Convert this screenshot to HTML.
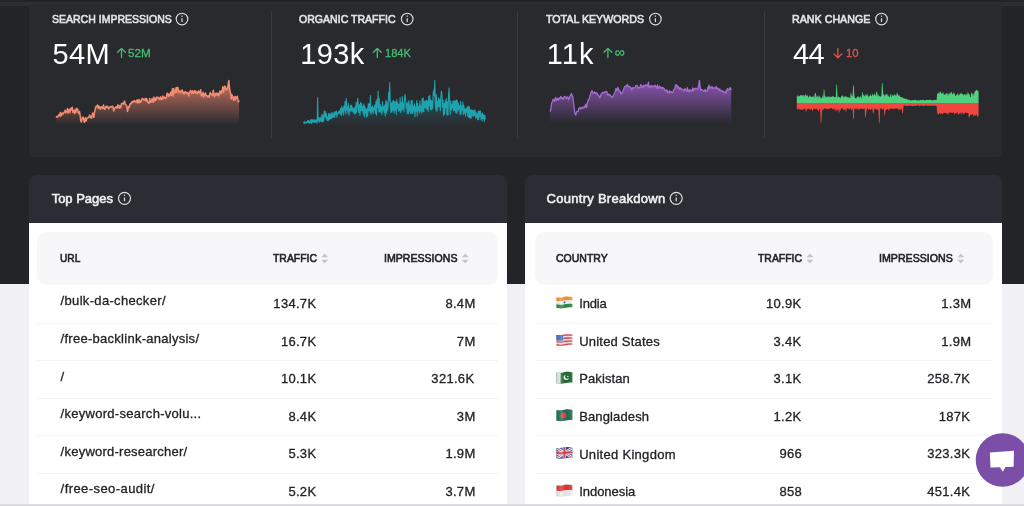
<!DOCTYPE html>
<html lang="en">
<head>
<meta charset="utf-8">
<title>SEO Dashboard</title>
<style>
*{box-sizing:border-box;margin:0;padding:0}
html,body{width:1024px;height:506px;overflow:hidden}
body{position:relative;background:#f0f0f5;font-family:"Liberation Sans","DejaVu Sans",sans-serif;color:#1f2024;-webkit-font-smoothing:antialiased}
.abs{position:absolute}
.dark{left:0;top:0;width:1024px;height:284px;background:#222428}
.topstrip{left:0;top:0;width:1024px;height:2px;background:#232428}
.topline{left:0;top:2px;width:1024px;height:3.5px;background:#2d2e33}
.stats{left:28.5px;top:5px;width:973.5px;height:151.5px;background:#292a2e;border-radius:0 0 5px 5px}
.vdiv{top:11px;width:1px;height:127px;background:#3a3b40}
.t{white-space:nowrap;transform-origin:0 0}
.lbl{color:#e4e4e8;-webkit-text-stroke:.6px #e4e4e8}
.big{color:#fff}
.up{color:#45bd72;-webkit-text-stroke:.3px #45bd72}.down{color:#e9544c;-webkit-text-stroke:.3px #e9544c}
svg{position:absolute;left:0;top:0;overflow:visible}
.chead{top:175px;width:476.5px;height:48px;background:#2b2d35;border-radius:8px 8px 0 0}
.cbody{top:222.5px;width:476.5px;height:284px;background:#fff}
.ctitle{color:#f1f1f4;-webkit-text-stroke:.55px #f1f1f4}
.thead{top:232px;height:53px;background:#f7f6f8;border-radius:10px}
.th{color:#222327;-webkit-text-stroke:.6px #222327}
.td{color:#222327;-webkit-text-stroke:.3px #222327}
.sep{height:1px;background:#f4f4f7}
</style>
</head>
<body>
<div class="abs dark"></div>
<div class="abs topstrip"></div>
<div class="abs topline"></div>
<div class="abs stats"></div>
<div class="abs vdiv" style="left:271px"></div>
<div class="abs vdiv" style="left:517px"></div>
<div class="abs vdiv" style="left:764px"></div>

<svg width="1024" height="506" viewBox="0 0 1024 506">
<defs>
<linearGradient id="g1" gradientUnits="userSpaceOnUse" x1="0" y1="85" x2="0" y2="125"><stop offset="0" stop-color="#e8826a" stop-opacity=".78"/><stop offset=".45" stop-color="#e8826a" stop-opacity=".42"/><stop offset="1" stop-color="#e8826a" stop-opacity="0"/></linearGradient>
<linearGradient id="g2" gradientUnits="userSpaceOnUse" x1="0" y1="100" x2="0" y2="127"><stop offset="0" stop-color="#1fa3ae" stop-opacity=".3"/><stop offset="1" stop-color="#1fa3ae" stop-opacity="0"/></linearGradient>
<linearGradient id="g3" gradientUnits="userSpaceOnUse" x1="0" y1="84" x2="0" y2="123"><stop offset="0" stop-color="#8a55b0" stop-opacity=".95"/><stop offset="1" stop-color="#8a55b0" stop-opacity="0"/></linearGradient>
</defs>
<path d="M56.1,117.6 L56.7,116.5 L57.3,116.9 L57.9,117.1 L58.5,115.0 L59.1,115.8 L59.7,115.4 L60.3,112.4 L60.9,116.2 L61.5,115.2 L62.1,113.0 L62.7,113.3 L63.3,114.0 L63.9,112.5 L64.5,112.2 L65.1,110.1 L65.7,112.8 L66.3,111.8 L66.9,111.7 L67.5,108.6 L68.1,113.0 L68.7,110.5 L69.3,109.3 L69.9,112.6 L70.5,109.7 L71.1,107.9 L71.7,109.7 L72.3,107.2 L72.9,112.5 L73.5,110.6 L74.1,110.4 L74.7,113.5 L75.3,109.4 L75.9,112.4 L76.5,108.3 L77.1,110.2 L77.7,109.1 L78.3,112.9 L78.9,113.5 L79.5,111.5 L80.1,115.3 L80.7,120.2 L81.3,122.0 L81.9,119.5 L82.5,117.6 L83.1,117.0 L83.7,119.8 L84.3,122.3 L84.9,119.1 L85.5,117.7 L86.1,121.2 L86.7,118.5 L87.3,118.1 L87.9,118.1 L88.5,117.3 L89.1,116.8 L89.7,114.9 L90.3,117.6 L90.9,116.5 L91.5,118.2 L92.1,115.6 L92.7,113.0 L93.3,115.5 L93.9,117.4 L94.5,112.3 L95.1,109.6 L95.7,107.2 L96.3,106.2 L96.9,106.7 L97.5,104.9 L98.1,108.5 L98.7,106.0 L99.3,106.7 L99.9,108.8 L100.5,109.1 L101.1,106.7 L101.7,107.6 L102.3,108.4 L102.9,107.2 L103.5,104.9 L104.1,108.8 L104.7,109.3 L105.3,108.5 L105.9,106.3 L106.5,107.1 L107.1,106.3 L107.7,106.5 L108.3,108.6 L108.9,108.7 L109.5,107.2 L110.1,106.9 L110.7,107.3 L111.3,106.6 L111.9,106.7 L112.5,106.1 L113.1,107.3 L113.7,111.0 L114.3,109.2 L114.9,107.7 L115.5,107.4 L116.1,106.6 L116.7,108.1 L117.3,107.9 L117.9,104.8 L118.5,107.4 L119.1,105.6 L119.7,108.3 L120.3,105.9 L120.9,107.6 L121.5,103.7 L122.1,103.3 L122.7,103.5 L123.3,104.0 L123.9,102.9 L124.5,101.0 L125.1,104.0 L125.7,104.6 L126.3,105.1 L126.9,106.3 L127.5,111.4 L128.1,109.1 L128.7,106.6 L129.3,107.1 L129.9,104.5 L130.5,103.2 L131.1,103.7 L131.7,102.5 L132.3,101.5 L132.9,102.4 L133.5,101.7 L134.1,100.5 L134.7,101.2 L135.3,101.2 L135.9,102.5 L136.5,100.8 L137.1,99.9 L137.7,103.0 L138.3,100.8 L138.9,99.5 L139.5,102.7 L140.1,100.7 L140.7,102.1 L141.3,100.2 L141.9,99.0 L142.5,98.4 L143.1,99.3 L143.7,99.8 L144.3,99.2 L144.9,100.2 L145.5,98.5 L146.1,101.1 L146.7,98.6 L147.3,101.2 L147.9,102.4 L148.5,102.8 L149.1,103.5 L149.7,98.4 L150.3,101.7 L150.9,102.2 L151.5,101.6 L152.1,98.6 L152.7,100.4 L153.3,102.3 L153.9,97.1 L154.5,99.9 L155.1,100.7 L155.7,97.9 L156.3,99.7 L156.9,97.1 L157.5,97.4 L158.1,97.3 L158.7,98.7 L159.3,98.2 L159.9,99.7 L160.5,96.8 L161.1,97.9 L161.7,99.5 L162.3,98.8 L162.9,95.9 L163.5,98.8 L164.1,97.0 L164.7,98.1 L165.3,97.6 L165.9,98.6 L166.5,96.5 L167.1,93.2 L167.7,93.5 L168.3,96.2 L168.9,94.3 L169.5,96.0 L170.1,94.5 L170.7,92.2 L171.3,95.3 L171.9,91.5 L172.5,88.8 L173.1,96.2 L173.7,88.4 L174.3,92.9 L174.9,93.1 L175.5,91.3 L176.1,87.6 L176.7,92.3 L177.3,87.4 L177.9,87.7 L178.5,89.8 L179.1,92.2 L179.7,91.6 L180.3,92.8 L180.9,90.7 L181.5,91.5 L182.1,90.0 L182.7,91.8 L183.3,93.8 L183.9,92.4 L184.5,93.9 L185.1,91.8 L185.7,91.8 L186.3,92.9 L186.9,92.4 L187.5,93.8 L188.1,93.0 L188.7,95.9 L189.3,92.2 L189.9,92.1 L190.5,90.5 L191.1,92.4 L191.7,93.5 L192.3,90.7 L192.9,91.8 L193.5,93.1 L194.1,91.4 L194.7,90.5 L195.3,93.2 L195.9,91.4 L196.5,91.9 L197.1,93.3 L197.7,93.6 L198.3,91.1 L198.9,91.2 L199.5,93.0 L200.1,92.6 L200.7,89.7 L201.3,96.0 L201.9,94.0 L202.5,95.6 L203.1,92.3 L203.7,97.2 L204.3,93.9 L204.9,95.1 L205.5,92.9 L206.1,95.5 L206.7,95.7 L207.3,96.0 L207.9,97.1 L208.5,95.9 L209.1,97.1 L209.7,94.0 L210.3,92.5 L210.9,93.8 L211.5,94.6 L212.1,95.4 L212.7,94.8 L213.3,90.2 L213.9,94.4 L214.5,96.7 L215.1,94.3 L215.7,93.4 L216.3,94.9 L216.9,93.1 L217.5,94.9 L218.1,93.4 L218.7,95.7 L219.3,93.7 L219.9,91.1 L220.5,93.3 L221.1,93.6 L221.7,90.5 L222.3,90.5 L222.9,86.7 L223.5,92.4 L224.1,89.3 L224.7,86.2 L225.3,86.4 L225.9,88.9 L226.5,90.2 L227.1,88.2 L227.7,88.2 L228.3,83.1 L228.9,80.4 L229.5,88.0 L230.1,91.5 L230.7,93.7 L231.3,98.9 L231.9,94.8 L232.5,95.9 L233.1,98.7 L233.7,100.3 L234.3,96.9 L234.9,100.1 L235.5,96.4 L236.1,98.7 L236.7,98.4 L237.3,96.2 L237.9,100.2 L238.5,101.9 L239.1,100.3 L239.1,126 L56.1,126 Z" fill="url(#g1)"/>
<path d="M56.1,117.6 L56.7,116.5 L57.3,116.9 L57.9,117.1 L58.5,115.0 L59.1,115.8 L59.7,115.4 L60.3,112.4 L60.9,116.2 L61.5,115.2 L62.1,113.0 L62.7,113.3 L63.3,114.0 L63.9,112.5 L64.5,112.2 L65.1,110.1 L65.7,112.8 L66.3,111.8 L66.9,111.7 L67.5,108.6 L68.1,113.0 L68.7,110.5 L69.3,109.3 L69.9,112.6 L70.5,109.7 L71.1,107.9 L71.7,109.7 L72.3,107.2 L72.9,112.5 L73.5,110.6 L74.1,110.4 L74.7,113.5 L75.3,109.4 L75.9,112.4 L76.5,108.3 L77.1,110.2 L77.7,109.1 L78.3,112.9 L78.9,113.5 L79.5,111.5 L80.1,115.3 L80.7,120.2 L81.3,122.0 L81.9,119.5 L82.5,117.6 L83.1,117.0 L83.7,119.8 L84.3,122.3 L84.9,119.1 L85.5,117.7 L86.1,121.2 L86.7,118.5 L87.3,118.1 L87.9,118.1 L88.5,117.3 L89.1,116.8 L89.7,114.9 L90.3,117.6 L90.9,116.5 L91.5,118.2 L92.1,115.6 L92.7,113.0 L93.3,115.5 L93.9,117.4 L94.5,112.3 L95.1,109.6 L95.7,107.2 L96.3,106.2 L96.9,106.7 L97.5,104.9 L98.1,108.5 L98.7,106.0 L99.3,106.7 L99.9,108.8 L100.5,109.1 L101.1,106.7 L101.7,107.6 L102.3,108.4 L102.9,107.2 L103.5,104.9 L104.1,108.8 L104.7,109.3 L105.3,108.5 L105.9,106.3 L106.5,107.1 L107.1,106.3 L107.7,106.5 L108.3,108.6 L108.9,108.7 L109.5,107.2 L110.1,106.9 L110.7,107.3 L111.3,106.6 L111.9,106.7 L112.5,106.1 L113.1,107.3 L113.7,111.0 L114.3,109.2 L114.9,107.7 L115.5,107.4 L116.1,106.6 L116.7,108.1 L117.3,107.9 L117.9,104.8 L118.5,107.4 L119.1,105.6 L119.7,108.3 L120.3,105.9 L120.9,107.6 L121.5,103.7 L122.1,103.3 L122.7,103.5 L123.3,104.0 L123.9,102.9 L124.5,101.0 L125.1,104.0 L125.7,104.6 L126.3,105.1 L126.9,106.3 L127.5,111.4 L128.1,109.1 L128.7,106.6 L129.3,107.1 L129.9,104.5 L130.5,103.2 L131.1,103.7 L131.7,102.5 L132.3,101.5 L132.9,102.4 L133.5,101.7 L134.1,100.5 L134.7,101.2 L135.3,101.2 L135.9,102.5 L136.5,100.8 L137.1,99.9 L137.7,103.0 L138.3,100.8 L138.9,99.5 L139.5,102.7 L140.1,100.7 L140.7,102.1 L141.3,100.2 L141.9,99.0 L142.5,98.4 L143.1,99.3 L143.7,99.8 L144.3,99.2 L144.9,100.2 L145.5,98.5 L146.1,101.1 L146.7,98.6 L147.3,101.2 L147.9,102.4 L148.5,102.8 L149.1,103.5 L149.7,98.4 L150.3,101.7 L150.9,102.2 L151.5,101.6 L152.1,98.6 L152.7,100.4 L153.3,102.3 L153.9,97.1 L154.5,99.9 L155.1,100.7 L155.7,97.9 L156.3,99.7 L156.9,97.1 L157.5,97.4 L158.1,97.3 L158.7,98.7 L159.3,98.2 L159.9,99.7 L160.5,96.8 L161.1,97.9 L161.7,99.5 L162.3,98.8 L162.9,95.9 L163.5,98.8 L164.1,97.0 L164.7,98.1 L165.3,97.6 L165.9,98.6 L166.5,96.5 L167.1,93.2 L167.7,93.5 L168.3,96.2 L168.9,94.3 L169.5,96.0 L170.1,94.5 L170.7,92.2 L171.3,95.3 L171.9,91.5 L172.5,88.8 L173.1,96.2 L173.7,88.4 L174.3,92.9 L174.9,93.1 L175.5,91.3 L176.1,87.6 L176.7,92.3 L177.3,87.4 L177.9,87.7 L178.5,89.8 L179.1,92.2 L179.7,91.6 L180.3,92.8 L180.9,90.7 L181.5,91.5 L182.1,90.0 L182.7,91.8 L183.3,93.8 L183.9,92.4 L184.5,93.9 L185.1,91.8 L185.7,91.8 L186.3,92.9 L186.9,92.4 L187.5,93.8 L188.1,93.0 L188.7,95.9 L189.3,92.2 L189.9,92.1 L190.5,90.5 L191.1,92.4 L191.7,93.5 L192.3,90.7 L192.9,91.8 L193.5,93.1 L194.1,91.4 L194.7,90.5 L195.3,93.2 L195.9,91.4 L196.5,91.9 L197.1,93.3 L197.7,93.6 L198.3,91.1 L198.9,91.2 L199.5,93.0 L200.1,92.6 L200.7,89.7 L201.3,96.0 L201.9,94.0 L202.5,95.6 L203.1,92.3 L203.7,97.2 L204.3,93.9 L204.9,95.1 L205.5,92.9 L206.1,95.5 L206.7,95.7 L207.3,96.0 L207.9,97.1 L208.5,95.9 L209.1,97.1 L209.7,94.0 L210.3,92.5 L210.9,93.8 L211.5,94.6 L212.1,95.4 L212.7,94.8 L213.3,90.2 L213.9,94.4 L214.5,96.7 L215.1,94.3 L215.7,93.4 L216.3,94.9 L216.9,93.1 L217.5,94.9 L218.1,93.4 L218.7,95.7 L219.3,93.7 L219.9,91.1 L220.5,93.3 L221.1,93.6 L221.7,90.5 L222.3,90.5 L222.9,86.7 L223.5,92.4 L224.1,89.3 L224.7,86.2 L225.3,86.4 L225.9,88.9 L226.5,90.2 L227.1,88.2 L227.7,88.2 L228.3,83.1 L228.9,80.4 L229.5,88.0 L230.1,91.5 L230.7,93.7 L231.3,98.9 L231.9,94.8 L232.5,95.9 L233.1,98.7 L233.7,100.3 L234.3,96.9 L234.9,100.1 L235.5,96.4 L236.1,98.7 L236.7,98.4 L237.3,96.2 L237.9,100.2 L238.5,101.9 L239.1,100.3" fill="none" stroke="#f28c72" stroke-width="1.5" stroke-linejoin="round"/>
<path d="M303.3,122.4 L303.9,123.2 L304.4,121.4 L305.0,123.6 L305.5,122.2 L306.1,123.2 L306.6,121.7 L307.2,122.6 L307.7,120.2 L308.3,122.4 L308.8,120.5 L309.4,123.3 L309.9,121.1 L310.5,122.7 L311.0,119.3 L311.6,123.4 L312.1,119.5 L312.7,122.1 L313.2,119.7 L313.8,122.2 L314.3,119.5 L314.9,122.6 L315.4,120.1 L316.0,121.8 L316.5,119.9 L317.1,123.3 L317.6,97.6 L318.2,121.0 L318.7,117.5 L319.3,122.4 L319.8,117.9 L320.4,121.1 L320.9,117.0 L321.5,121.5 L322.0,114.1 L322.6,121.9 L323.1,115.3 L323.7,121.1 L324.2,111.0 L324.8,116.7 L325.3,111.2 L325.9,118.3 L326.4,113.4 L327.0,120.3 L327.5,117.3 L328.1,121.0 L328.6,113.3 L329.2,120.0 L329.7,114.1 L330.3,119.0 L330.8,113.2 L331.4,118.8 L331.9,112.5 L332.5,117.4 L333.0,113.9 L333.6,117.3 L334.1,111.8 L334.7,117.6 L335.2,111.8 L335.8,114.4 L336.3,110.8 L336.9,117.2 L337.4,112.7 L338.0,113.6 L338.5,111.8 L339.1,113.0 L339.6,110.3 L340.2,114.5 L340.7,108.2 L341.3,115.4 L341.8,106.0 L342.4,112.2 L342.9,107.7 L343.5,114.9 L344.0,105.7 L344.6,110.1 L345.1,101.2 L345.7,114.2 L346.2,98.2 L346.8,110.0 L347.3,106.7 L347.9,113.0 L348.4,103.2 L349.0,115.3 L349.5,108.5 L350.1,111.0 L350.6,105.3 L351.2,111.2 L351.7,105.0 L352.3,111.3 L352.8,107.7 L353.4,112.4 L353.9,108.5 L354.5,114.1 L355.0,106.7 L355.6,113.7 L356.1,102.3 L356.7,112.2 L357.2,104.3 L357.8,98.2 L358.3,107.1 L358.9,112.6 L359.4,104.6 L360.0,115.4 L360.5,102.3 L361.1,110.6 L361.6,103.4 L362.2,111.1 L362.7,106.2 L363.3,114.2 L363.8,103.7 L364.4,117.1 L364.9,106.1 L365.5,112.8 L366.0,109.0 L366.6,117.1 L367.1,108.3 L367.7,116.1 L368.2,103.3 L368.8,110.8 L369.3,104.0 L369.9,112.5 L370.4,95.4 L371.0,114.4 L371.5,107.0 L372.1,111.3 L372.6,105.9 L373.2,113.7 L373.7,107.6 L374.3,109.7 L374.8,104.7 L375.4,113.5 L375.9,101.6 L376.5,115.2 L377.0,99.5 L377.6,107.6 L378.1,91.1 L378.7,111.7 L379.2,98.5 L379.8,112.0 L380.3,104.2 L380.9,112.5 L381.4,107.1 L382.0,114.4 L382.5,101.4 L383.1,110.1 L383.6,106.4 L384.2,112.8 L384.7,105.0 L385.3,116.0 L385.8,100.2 L386.4,113.2 L386.9,101.8 L387.5,110.8 L388.0,106.7 L388.6,92.2 L389.1,100.7 L389.7,82.6 L390.2,99.8 L390.8,112.8 L391.3,102.9 L391.9,111.9 L392.4,101.5 L393.0,110.1 L393.5,100.2 L394.1,113.1 L394.6,101.6 L395.2,110.7 L395.7,101.7 L396.3,114.6 L396.8,99.3 L397.4,108.1 L397.9,102.9 L398.5,111.3 L399.0,104.3 L399.6,110.4 L400.1,97.5 L400.7,112.8 L401.2,102.3 L401.8,110.5 L402.3,96.6 L402.9,109.0 L403.4,103.0 L404.0,112.0 L404.5,98.9 L405.1,94.4 L405.6,97.9 L406.2,107.9 L406.7,103.6 L407.3,113.7 L407.8,102.3 L408.4,114.0 L408.9,100.5 L409.5,111.3 L410.0,104.9 L410.6,113.4 L411.1,100.6 L411.7,113.0 L412.2,100.2 L412.8,113.5 L413.3,106.0 L413.9,111.1 L414.4,103.7 L415.0,116.8 L415.5,106.6 L416.1,111.6 L416.6,100.5 L417.2,116.0 L417.7,103.3 L418.3,110.5 L418.8,106.6 L419.4,113.2 L419.9,100.7 L420.5,111.1 L421.0,105.4 L421.6,113.3 L422.1,98.4 L422.7,111.5 L423.2,97.9 L423.8,111.8 L424.3,101.4 L424.9,107.9 L425.4,100.8 L426.0,108.3 L426.5,100.2 L427.1,109.8 L427.6,100.8 L428.2,111.5 L428.7,96.5 L429.3,105.7 L429.8,95.4 L430.4,109.6 L430.9,100.0 L431.5,110.0 L432.0,100.9 L432.6,108.6 L433.1,94.0 L433.7,90.1 L434.2,95.8 L434.8,80.4 L435.3,99.1 L435.9,110.0 L436.4,94.5 L437.0,111.5 L437.5,101.2 L438.1,106.9 L438.6,97.8 L439.2,106.8 L439.7,99.4 L440.3,110.7 L440.8,97.2 L441.4,91.1 L441.9,93.0 L442.5,107.6 L443.0,100.0 L443.6,115.6 L444.1,103.6 L444.7,113.9 L445.2,100.7 L445.8,107.6 L446.3,98.5 L446.9,115.1 L447.4,101.8 L448.0,115.2 L448.5,96.1 L449.1,87.9 L449.6,100.3 L450.2,114.5 L450.7,101.0 L451.3,110.3 L451.8,104.5 L452.4,108.3 L452.9,100.7 L453.5,111.0 L454.0,100.7 L454.6,110.4 L455.1,101.0 L455.7,112.4 L456.2,99.5 L456.8,113.5 L457.3,100.5 L457.9,111.1 L458.4,103.0 L459.0,109.5 L459.5,105.8 L460.1,114.7 L460.6,101.3 L461.2,114.3 L461.7,106.1 L462.3,109.9 L462.8,101.8 L463.4,114.7 L463.9,105.4 L464.5,113.5 L465.0,108.5 L465.6,116.1 L466.1,108.7 L466.7,112.1 L467.2,106.8 L467.8,116.4 L468.3,106.0 L468.9,117.7 L469.4,107.1 L470.0,117.9 L470.5,109.7 L471.1,118.4 L471.6,109.7 L472.2,116.2 L472.7,110.3 L473.3,115.9 L473.8,110.5 L474.4,115.5 L474.9,109.5 L475.5,118.0 L476.0,112.0 L476.6,117.8 L477.1,113.7 L477.7,120.0 L478.2,111.3 L478.8,119.4 L479.3,111.1 L479.9,116.5 L480.4,110.8 L481.0,119.4 L481.5,113.9 L482.1,121.0 L482.6,112.9 L483.2,118.8 L483.7,114.9 L484.3,121.4 L484.8,115.0 L485.4,119.4 L485.4,127 L303.3,127 Z" fill="url(#g2)"/>
<path d="M303.3,122.4 L303.9,123.2 L304.4,121.4 L305.0,123.6 L305.5,122.2 L306.1,123.2 L306.6,121.7 L307.2,122.6 L307.7,120.2 L308.3,122.4 L308.8,120.5 L309.4,123.3 L309.9,121.1 L310.5,122.7 L311.0,119.3 L311.6,123.4 L312.1,119.5 L312.7,122.1 L313.2,119.7 L313.8,122.2 L314.3,119.5 L314.9,122.6 L315.4,120.1 L316.0,121.8 L316.5,119.9 L317.1,123.3 L317.6,97.6 L318.2,121.0 L318.7,117.5 L319.3,122.4 L319.8,117.9 L320.4,121.1 L320.9,117.0 L321.5,121.5 L322.0,114.1 L322.6,121.9 L323.1,115.3 L323.7,121.1 L324.2,111.0 L324.8,116.7 L325.3,111.2 L325.9,118.3 L326.4,113.4 L327.0,120.3 L327.5,117.3 L328.1,121.0 L328.6,113.3 L329.2,120.0 L329.7,114.1 L330.3,119.0 L330.8,113.2 L331.4,118.8 L331.9,112.5 L332.5,117.4 L333.0,113.9 L333.6,117.3 L334.1,111.8 L334.7,117.6 L335.2,111.8 L335.8,114.4 L336.3,110.8 L336.9,117.2 L337.4,112.7 L338.0,113.6 L338.5,111.8 L339.1,113.0 L339.6,110.3 L340.2,114.5 L340.7,108.2 L341.3,115.4 L341.8,106.0 L342.4,112.2 L342.9,107.7 L343.5,114.9 L344.0,105.7 L344.6,110.1 L345.1,101.2 L345.7,114.2 L346.2,98.2 L346.8,110.0 L347.3,106.7 L347.9,113.0 L348.4,103.2 L349.0,115.3 L349.5,108.5 L350.1,111.0 L350.6,105.3 L351.2,111.2 L351.7,105.0 L352.3,111.3 L352.8,107.7 L353.4,112.4 L353.9,108.5 L354.5,114.1 L355.0,106.7 L355.6,113.7 L356.1,102.3 L356.7,112.2 L357.2,104.3 L357.8,98.2 L358.3,107.1 L358.9,112.6 L359.4,104.6 L360.0,115.4 L360.5,102.3 L361.1,110.6 L361.6,103.4 L362.2,111.1 L362.7,106.2 L363.3,114.2 L363.8,103.7 L364.4,117.1 L364.9,106.1 L365.5,112.8 L366.0,109.0 L366.6,117.1 L367.1,108.3 L367.7,116.1 L368.2,103.3 L368.8,110.8 L369.3,104.0 L369.9,112.5 L370.4,95.4 L371.0,114.4 L371.5,107.0 L372.1,111.3 L372.6,105.9 L373.2,113.7 L373.7,107.6 L374.3,109.7 L374.8,104.7 L375.4,113.5 L375.9,101.6 L376.5,115.2 L377.0,99.5 L377.6,107.6 L378.1,91.1 L378.7,111.7 L379.2,98.5 L379.8,112.0 L380.3,104.2 L380.9,112.5 L381.4,107.1 L382.0,114.4 L382.5,101.4 L383.1,110.1 L383.6,106.4 L384.2,112.8 L384.7,105.0 L385.3,116.0 L385.8,100.2 L386.4,113.2 L386.9,101.8 L387.5,110.8 L388.0,106.7 L388.6,92.2 L389.1,100.7 L389.7,82.6 L390.2,99.8 L390.8,112.8 L391.3,102.9 L391.9,111.9 L392.4,101.5 L393.0,110.1 L393.5,100.2 L394.1,113.1 L394.6,101.6 L395.2,110.7 L395.7,101.7 L396.3,114.6 L396.8,99.3 L397.4,108.1 L397.9,102.9 L398.5,111.3 L399.0,104.3 L399.6,110.4 L400.1,97.5 L400.7,112.8 L401.2,102.3 L401.8,110.5 L402.3,96.6 L402.9,109.0 L403.4,103.0 L404.0,112.0 L404.5,98.9 L405.1,94.4 L405.6,97.9 L406.2,107.9 L406.7,103.6 L407.3,113.7 L407.8,102.3 L408.4,114.0 L408.9,100.5 L409.5,111.3 L410.0,104.9 L410.6,113.4 L411.1,100.6 L411.7,113.0 L412.2,100.2 L412.8,113.5 L413.3,106.0 L413.9,111.1 L414.4,103.7 L415.0,116.8 L415.5,106.6 L416.1,111.6 L416.6,100.5 L417.2,116.0 L417.7,103.3 L418.3,110.5 L418.8,106.6 L419.4,113.2 L419.9,100.7 L420.5,111.1 L421.0,105.4 L421.6,113.3 L422.1,98.4 L422.7,111.5 L423.2,97.9 L423.8,111.8 L424.3,101.4 L424.9,107.9 L425.4,100.8 L426.0,108.3 L426.5,100.2 L427.1,109.8 L427.6,100.8 L428.2,111.5 L428.7,96.5 L429.3,105.7 L429.8,95.4 L430.4,109.6 L430.9,100.0 L431.5,110.0 L432.0,100.9 L432.6,108.6 L433.1,94.0 L433.7,90.1 L434.2,95.8 L434.8,80.4 L435.3,99.1 L435.9,110.0 L436.4,94.5 L437.0,111.5 L437.5,101.2 L438.1,106.9 L438.6,97.8 L439.2,106.8 L439.7,99.4 L440.3,110.7 L440.8,97.2 L441.4,91.1 L441.9,93.0 L442.5,107.6 L443.0,100.0 L443.6,115.6 L444.1,103.6 L444.7,113.9 L445.2,100.7 L445.8,107.6 L446.3,98.5 L446.9,115.1 L447.4,101.8 L448.0,115.2 L448.5,96.1 L449.1,87.9 L449.6,100.3 L450.2,114.5 L450.7,101.0 L451.3,110.3 L451.8,104.5 L452.4,108.3 L452.9,100.7 L453.5,111.0 L454.0,100.7 L454.6,110.4 L455.1,101.0 L455.7,112.4 L456.2,99.5 L456.8,113.5 L457.3,100.5 L457.9,111.1 L458.4,103.0 L459.0,109.5 L459.5,105.8 L460.1,114.7 L460.6,101.3 L461.2,114.3 L461.7,106.1 L462.3,109.9 L462.8,101.8 L463.4,114.7 L463.9,105.4 L464.5,113.5 L465.0,108.5 L465.6,116.1 L466.1,108.7 L466.7,112.1 L467.2,106.8 L467.8,116.4 L468.3,106.0 L468.9,117.7 L469.4,107.1 L470.0,117.9 L470.5,109.7 L471.1,118.4 L471.6,109.7 L472.2,116.2 L472.7,110.3 L473.3,115.9 L473.8,110.5 L474.4,115.5 L474.9,109.5 L475.5,118.0 L476.0,112.0 L476.6,117.8 L477.1,113.7 L477.7,120.0 L478.2,111.3 L478.8,119.4 L479.3,111.1 L479.9,116.5 L480.4,110.8 L481.0,119.4 L481.5,113.9 L482.1,121.0 L482.6,112.9 L483.2,118.8 L483.7,114.9 L484.3,121.4 L484.8,115.0 L485.4,119.4" fill="none" stroke="#1ea3ae" stroke-width="1.05" stroke-linejoin="round"/>
<path d="M550.0,111.6 L550.6,110.4 L551.2,106.3 L551.8,102.4 L552.4,102.2 L553.0,99.5 L553.6,99.6 L554.2,101.0 L554.8,101.1 L555.4,97.3 L556.0,99.5 L556.6,100.6 L557.2,98.1 L557.8,98.8 L558.4,100.0 L559.0,97.9 L559.6,98.8 L560.2,98.2 L560.8,96.3 L561.4,98.3 L562.0,97.6 L562.6,98.4 L563.2,99.4 L563.8,97.7 L564.4,96.4 L565.0,97.0 L565.6,97.2 L566.2,98.7 L566.8,96.8 L567.4,97.7 L568.0,97.4 L568.6,99.8 L569.2,98.2 L569.8,96.6 L570.4,95.5 L571.0,94.7 L571.6,93.6 L572.2,95.6 L572.8,96.8 L573.4,101.3 L574.0,106.5 L574.6,111.5 L575.2,114.7 L575.8,115.0 L576.4,112.8 L577.0,111.3 L577.6,111.3 L578.2,111.7 L578.8,108.4 L579.4,108.5 L580.0,107.3 L580.6,109.3 L581.2,108.2 L581.8,107.6 L582.4,107.3 L583.0,108.5 L583.6,107.3 L584.2,106.5 L584.8,107.8 L585.4,105.0 L586.0,104.3 L586.6,107.6 L587.2,103.1 L587.8,101.5 L588.4,99.8 L589.0,98.9 L589.6,97.7 L590.2,95.4 L590.8,93.0 L591.4,91.9 L592.0,90.6 L592.6,92.3 L593.2,93.4 L593.8,92.9 L594.4,91.9 L595.0,93.3 L595.6,92.6 L596.2,93.4 L596.8,92.7 L597.4,94.1 L598.0,95.1 L598.6,95.2 L599.2,96.7 L599.8,97.7 L600.4,96.6 L601.0,94.4 L601.6,93.5 L602.2,93.1 L602.8,92.2 L603.4,92.8 L604.0,92.8 L604.6,92.2 L605.2,91.8 L605.8,91.4 L606.4,91.7 L607.0,91.9 L607.6,95.2 L608.2,95.3 L608.8,94.1 L609.4,94.6 L610.0,95.0 L610.6,95.8 L611.2,97.1 L611.8,97.0 L612.4,97.1 L613.0,96.1 L613.6,95.1 L614.2,93.7 L614.8,92.4 L615.4,91.0 L616.0,88.5 L616.6,89.3 L617.2,90.4 L617.8,87.5 L618.4,88.4 L619.0,90.9 L619.6,90.9 L620.2,91.3 L620.8,93.8 L621.4,93.0 L622.0,93.3 L622.6,91.6 L623.2,90.7 L623.8,88.7 L624.4,87.2 L625.0,86.3 L625.6,86.4 L626.2,85.6 L626.8,86.2 L627.4,84.4 L628.0,86.3 L628.6,86.6 L629.2,86.3 L629.8,86.6 L630.4,88.1 L631.0,87.6 L631.6,89.9 L632.2,89.4 L632.8,87.5 L633.4,87.8 L634.0,88.2 L634.6,87.7 L635.2,87.3 L635.8,85.7 L636.4,85.5 L637.0,85.5 L637.6,86.5 L638.2,88.4 L638.8,87.5 L639.4,87.7 L640.0,87.5 L640.6,84.6 L641.2,85.9 L641.8,85.6 L642.4,87.2 L643.0,87.6 L643.6,85.2 L644.2,85.9 L644.8,86.3 L645.4,85.2 L646.0,84.9 L646.6,84.8 L647.2,86.0 L647.8,86.1 L648.4,82.1 L649.0,87.1 L649.6,86.7 L650.2,87.7 L650.8,85.7 L651.4,85.8 L652.0,87.2 L652.6,85.8 L653.2,86.0 L653.8,86.5 L654.4,86.7 L655.0,85.2 L655.6,86.1 L656.2,87.2 L656.8,88.1 L657.4,85.0 L658.0,88.4 L658.6,88.1 L659.2,86.3 L659.8,86.1 L660.4,88.0 L661.0,87.2 L661.6,87.8 L662.2,88.6 L662.8,87.4 L663.4,88.0 L664.0,88.5 L664.6,89.3 L665.2,90.7 L665.8,91.1 L666.4,90.0 L667.0,90.0 L667.6,93.1 L668.2,91.8 L668.8,91.9 L669.4,90.7 L670.0,92.8 L670.6,91.6 L671.2,92.2 L671.8,91.6 L672.4,92.7 L673.0,92.4 L673.6,89.7 L674.2,89.2 L674.8,88.3 L675.4,85.4 L676.0,84.7 L676.6,85.5 L677.2,85.4 L677.8,87.8 L678.4,86.6 L679.0,88.7 L679.6,89.3 L680.2,87.6 L680.8,89.2 L681.4,89.1 L682.0,88.8 L682.6,89.7 L683.2,89.7 L683.8,90.6 L684.4,90.8 L685.0,88.6 L685.6,89.3 L686.2,90.3 L686.8,91.1 L687.4,87.6 L688.0,91.4 L688.6,90.1 L689.2,91.9 L689.8,90.1 L690.4,89.6 L691.0,90.4 L691.6,91.5 L692.2,90.3 L692.8,87.9 L693.4,90.9 L694.0,88.6 L694.6,89.1 L695.2,88.9 L695.8,88.1 L696.4,88.6 L697.0,88.8 L697.6,89.1 L698.2,87.4 L698.8,84.4 L699.4,80.4 L700.0,85.4 L700.6,90.0 L701.2,90.1 L701.8,89.5 L702.4,90.1 L703.0,90.5 L703.6,91.2 L704.2,91.6 L704.8,89.7 L705.4,89.7 L706.0,91.4 L706.6,91.4 L707.2,91.3 L707.8,87.3 L708.4,88.8 L709.0,85.0 L709.6,88.2 L710.2,86.9 L710.8,87.0 L711.4,86.9 L712.0,88.4 L712.6,86.9 L713.2,88.4 L713.8,88.0 L714.4,87.9 L715.0,88.0 L715.6,87.8 L716.2,86.6 L716.8,88.5 L717.4,88.6 L718.0,88.2 L718.6,89.7 L719.2,90.4 L719.8,88.8 L720.4,90.6 L721.0,90.8 L721.6,90.5 L722.2,91.9 L722.8,91.0 L723.4,91.6 L724.0,92.5 L724.6,92.2 L725.2,91.8 L725.8,93.3 L726.4,90.1 L727.0,90.5 L727.6,88.5 L728.2,89.6 L728.8,89.7 L729.4,89.2 L730.0,87.6 L730.6,88.2 L731.2,90.1 L731.2,124 L550.0,124 Z" fill="url(#g3)"/>
<path d="M550.0,111.6 L550.6,110.4 L551.2,106.3 L551.8,102.4 L552.4,102.2 L553.0,99.5 L553.6,99.6 L554.2,101.0 L554.8,101.1 L555.4,97.3 L556.0,99.5 L556.6,100.6 L557.2,98.1 L557.8,98.8 L558.4,100.0 L559.0,97.9 L559.6,98.8 L560.2,98.2 L560.8,96.3 L561.4,98.3 L562.0,97.6 L562.6,98.4 L563.2,99.4 L563.8,97.7 L564.4,96.4 L565.0,97.0 L565.6,97.2 L566.2,98.7 L566.8,96.8 L567.4,97.7 L568.0,97.4 L568.6,99.8 L569.2,98.2 L569.8,96.6 L570.4,95.5 L571.0,94.7 L571.6,93.6 L572.2,95.6 L572.8,96.8 L573.4,101.3 L574.0,106.5 L574.6,111.5 L575.2,114.7 L575.8,115.0 L576.4,112.8 L577.0,111.3 L577.6,111.3 L578.2,111.7 L578.8,108.4 L579.4,108.5 L580.0,107.3 L580.6,109.3 L581.2,108.2 L581.8,107.6 L582.4,107.3 L583.0,108.5 L583.6,107.3 L584.2,106.5 L584.8,107.8 L585.4,105.0 L586.0,104.3 L586.6,107.6 L587.2,103.1 L587.8,101.5 L588.4,99.8 L589.0,98.9 L589.6,97.7 L590.2,95.4 L590.8,93.0 L591.4,91.9 L592.0,90.6 L592.6,92.3 L593.2,93.4 L593.8,92.9 L594.4,91.9 L595.0,93.3 L595.6,92.6 L596.2,93.4 L596.8,92.7 L597.4,94.1 L598.0,95.1 L598.6,95.2 L599.2,96.7 L599.8,97.7 L600.4,96.6 L601.0,94.4 L601.6,93.5 L602.2,93.1 L602.8,92.2 L603.4,92.8 L604.0,92.8 L604.6,92.2 L605.2,91.8 L605.8,91.4 L606.4,91.7 L607.0,91.9 L607.6,95.2 L608.2,95.3 L608.8,94.1 L609.4,94.6 L610.0,95.0 L610.6,95.8 L611.2,97.1 L611.8,97.0 L612.4,97.1 L613.0,96.1 L613.6,95.1 L614.2,93.7 L614.8,92.4 L615.4,91.0 L616.0,88.5 L616.6,89.3 L617.2,90.4 L617.8,87.5 L618.4,88.4 L619.0,90.9 L619.6,90.9 L620.2,91.3 L620.8,93.8 L621.4,93.0 L622.0,93.3 L622.6,91.6 L623.2,90.7 L623.8,88.7 L624.4,87.2 L625.0,86.3 L625.6,86.4 L626.2,85.6 L626.8,86.2 L627.4,84.4 L628.0,86.3 L628.6,86.6 L629.2,86.3 L629.8,86.6 L630.4,88.1 L631.0,87.6 L631.6,89.9 L632.2,89.4 L632.8,87.5 L633.4,87.8 L634.0,88.2 L634.6,87.7 L635.2,87.3 L635.8,85.7 L636.4,85.5 L637.0,85.5 L637.6,86.5 L638.2,88.4 L638.8,87.5 L639.4,87.7 L640.0,87.5 L640.6,84.6 L641.2,85.9 L641.8,85.6 L642.4,87.2 L643.0,87.6 L643.6,85.2 L644.2,85.9 L644.8,86.3 L645.4,85.2 L646.0,84.9 L646.6,84.8 L647.2,86.0 L647.8,86.1 L648.4,82.1 L649.0,87.1 L649.6,86.7 L650.2,87.7 L650.8,85.7 L651.4,85.8 L652.0,87.2 L652.6,85.8 L653.2,86.0 L653.8,86.5 L654.4,86.7 L655.0,85.2 L655.6,86.1 L656.2,87.2 L656.8,88.1 L657.4,85.0 L658.0,88.4 L658.6,88.1 L659.2,86.3 L659.8,86.1 L660.4,88.0 L661.0,87.2 L661.6,87.8 L662.2,88.6 L662.8,87.4 L663.4,88.0 L664.0,88.5 L664.6,89.3 L665.2,90.7 L665.8,91.1 L666.4,90.0 L667.0,90.0 L667.6,93.1 L668.2,91.8 L668.8,91.9 L669.4,90.7 L670.0,92.8 L670.6,91.6 L671.2,92.2 L671.8,91.6 L672.4,92.7 L673.0,92.4 L673.6,89.7 L674.2,89.2 L674.8,88.3 L675.4,85.4 L676.0,84.7 L676.6,85.5 L677.2,85.4 L677.8,87.8 L678.4,86.6 L679.0,88.7 L679.6,89.3 L680.2,87.6 L680.8,89.2 L681.4,89.1 L682.0,88.8 L682.6,89.7 L683.2,89.7 L683.8,90.6 L684.4,90.8 L685.0,88.6 L685.6,89.3 L686.2,90.3 L686.8,91.1 L687.4,87.6 L688.0,91.4 L688.6,90.1 L689.2,91.9 L689.8,90.1 L690.4,89.6 L691.0,90.4 L691.6,91.5 L692.2,90.3 L692.8,87.9 L693.4,90.9 L694.0,88.6 L694.6,89.1 L695.2,88.9 L695.8,88.1 L696.4,88.6 L697.0,88.8 L697.6,89.1 L698.2,87.4 L698.8,84.4 L699.4,80.4 L700.0,85.4 L700.6,90.0 L701.2,90.1 L701.8,89.5 L702.4,90.1 L703.0,90.5 L703.6,91.2 L704.2,91.6 L704.8,89.7 L705.4,89.7 L706.0,91.4 L706.6,91.4 L707.2,91.3 L707.8,87.3 L708.4,88.8 L709.0,85.0 L709.6,88.2 L710.2,86.9 L710.8,87.0 L711.4,86.9 L712.0,88.4 L712.6,86.9 L713.2,88.4 L713.8,88.0 L714.4,87.9 L715.0,88.0 L715.6,87.8 L716.2,86.6 L716.8,88.5 L717.4,88.6 L718.0,88.2 L718.6,89.7 L719.2,90.4 L719.8,88.8 L720.4,90.6 L721.0,90.8 L721.6,90.5 L722.2,91.9 L722.8,91.0 L723.4,91.6 L724.0,92.5 L724.6,92.2 L725.2,91.8 L725.8,93.3 L726.4,90.1 L727.0,90.5 L727.6,88.5 L728.2,89.6 L728.8,89.7 L729.4,89.2 L730.0,87.6 L730.6,88.2 L731.2,90.1" fill="none" stroke="#a56bcf" stroke-width="1.3" stroke-linejoin="round"/>
<path d="M796.8,103.0 L796.8,95.4 L797.4,96.7 L798.0,94.6 L798.6,97.1 L799.2,96.0 L799.8,96.2 L800.4,94.8 L801.0,95.5 L801.6,95.3 L802.2,95.9 L802.8,94.8 L803.4,95.4 L804.0,94.7 L804.6,97.2 L805.2,93.5 L805.8,95.5 L806.4,95.3 L807.0,95.7 L807.6,95.1 L808.2,97.5 L808.8,97.1 L809.4,95.9 L810.0,95.1 L810.6,96.8 L811.2,96.6 L811.8,97.3 L812.4,96.2 L813.0,97.6 L813.6,95.4 L814.2,98.3 L814.8,93.6 L815.4,92.7 L816.0,93.9 L816.6,97.8 L817.2,95.3 L817.8,97.1 L818.4,95.3 L819.0,99.1 L819.6,95.1 L820.2,97.0 L820.8,97.4 L821.4,98.6 L822.0,97.9 L822.6,94.6 L823.2,98.2 L823.8,89.0 L824.4,90.3 L825.0,97.8 L825.6,95.6 L826.2,97.1 L826.8,97.2 L827.4,96.3 L828.0,97.6 L828.6,95.9 L829.2,97.2 L829.8,96.4 L830.4,96.8 L831.0,97.1 L831.6,97.1 L832.2,95.8 L832.8,96.8 L833.4,96.1 L834.0,97.0 L834.6,97.1 L835.2,97.0 L835.8,97.0 L836.4,84.1 L837.0,85.3 L837.6,98.1 L838.2,96.3 L838.8,96.9 L839.4,97.0 L840.0,98.3 L840.6,98.1 L841.2,95.6 L841.8,97.0 L842.4,95.0 L843.0,95.9 L843.6,97.0 L844.2,97.6 L844.8,96.3 L845.4,96.6 L846.0,95.5 L846.6,97.4 L847.2,96.8 L847.8,97.4 L848.4,97.1 L849.0,97.7 L849.6,97.7 L850.2,97.9 L850.8,92.2 L851.4,93.5 L852.0,96.4 L852.6,96.1 L853.2,84.7 L853.8,86.0 L854.4,95.7 L855.0,98.6 L855.6,98.0 L856.2,98.2 L856.8,97.2 L857.4,96.6 L858.0,96.7 L858.6,96.2 L859.2,98.6 L859.8,96.6 L860.4,96.4 L861.0,96.5 L861.6,98.9 L862.2,91.8 L862.8,93.1 L863.4,95.4 L864.0,95.3 L864.6,96.4 L865.2,93.7 L865.8,96.4 L866.4,95.2 L867.0,92.9 L867.6,95.0 L868.2,96.2 L868.8,96.9 L869.4,95.6 L870.0,96.0 L870.6,93.5 L871.2,96.0 L871.8,96.3 L872.4,93.8 L873.0,94.4 L873.6,96.3 L874.2,92.4 L874.8,95.0 L875.4,96.1 L876.0,93.6 L876.6,91.1 L877.2,92.4 L877.8,96.4 L878.4,94.1 L879.0,96.6 L879.6,95.8 L880.2,96.7 L880.8,96.4 L881.4,95.6 L882.0,82.6 L882.6,83.8 L883.2,94.0 L883.8,94.4 L884.4,95.1 L885.0,96.4 L885.6,93.5 L886.2,95.1 L886.8,94.0 L887.4,93.8 L888.0,97.0 L888.6,95.0 L889.2,97.2 L889.8,96.7 L890.4,94.5 L891.0,93.5 L891.6,97.7 L892.2,95.0 L892.8,94.2 L893.4,96.2 L894.0,95.6 L894.6,93.9 L895.2,95.1 L895.8,95.6 L896.4,95.5 L897.0,92.2 L897.6,93.5 L898.2,95.1 L898.8,96.1 L899.4,95.1 L900.0,96.6 L900.6,96.9 L901.2,97.5 L901.8,97.2 L902.4,97.3 L903.0,98.2 L903.6,98.0 L904.2,98.5 L904.8,98.5 L905.4,99.0 L906.0,99.0 L906.6,98.5 L907.2,99.6 L907.8,99.4 L908.4,100.1 L909.0,99.6 L909.6,99.9 L910.2,100.2 L910.8,100.5 L911.4,100.6 L912.0,99.9 L912.6,100.1 L913.2,100.4 L913.8,99.9 L914.4,100.0 L915.0,99.8 L915.6,99.7 L916.2,100.6 L916.8,100.4 L917.4,100.0 L918.0,100.4 L918.6,100.6 L919.2,100.6 L919.8,100.2 L920.4,100.0 L921.0,99.8 L921.6,100.4 L922.2,100.0 L922.8,99.6 L923.4,100.1 L924.0,100.2 L924.6,100.5 L925.2,100.5 L925.8,99.9 L926.4,99.9 L927.0,100.0 L927.6,99.7 L928.2,100.1 L928.8,99.9 L929.4,100.2 L930.0,99.6 L930.6,99.7 L931.2,100.6 L931.8,99.7 L932.4,100.4 L933.0,100.4 L933.6,99.9 L934.2,99.8 L934.8,100.3 L935.4,99.8 L936.0,100.1 L936.6,100.2 L937.2,93.2 L937.8,93.7 L938.4,93.6 L939.0,91.8 L939.6,93.7 L940.2,90.7 L940.8,92.0 L941.4,93.6 L942.0,93.6 L942.6,93.3 L943.2,91.7 L943.8,94.8 L944.4,94.7 L945.0,94.6 L945.6,94.3 L946.2,92.6 L946.8,94.1 L947.4,92.9 L948.0,96.3 L948.6,93.1 L949.2,94.7 L949.8,92.3 L950.4,92.7 L951.0,93.4 L951.6,91.1 L952.2,94.5 L952.8,94.1 L953.4,92.0 L954.0,93.8 L954.6,92.9 L955.2,95.7 L955.8,95.9 L956.4,94.8 L957.0,94.7 L957.6,92.6 L958.2,96.3 L958.8,94.2 L959.4,95.0 L960.0,93.0 L960.6,93.9 L961.2,92.7 L961.8,93.7 L962.4,94.0 L963.0,94.2 L963.6,95.4 L964.2,94.5 L964.8,94.2 L965.4,94.0 L966.0,96.1 L966.6,93.3 L967.2,95.2 L967.8,91.8 L968.4,93.0 L969.0,94.4 L969.6,93.8 L970.2,97.2 L970.8,96.7 L971.4,92.3 L972.0,92.8 L972.6,93.8 L973.2,95.8 L973.8,93.4 L974.4,92.6 L975.0,90.7 L975.6,91.3 L976.2,89.3 L976.8,90.6 L977.4,90.1 L978.0,91.4 L978.6,90.8 L978.6,103.0 Z" fill="#4fd07e"/>
<path d="M796.8,103.0 L796.8,109.3 L797.4,109.4 L798.0,109.0 L798.6,108.6 L799.2,109.0 L799.8,110.3 L800.4,108.8 L801.0,110.3 L801.6,109.8 L802.2,108.6 L802.8,110.8 L803.4,109.4 L804.0,109.2 L804.6,108.2 L805.2,108.4 L805.8,112.0 L806.4,110.7 L807.0,109.0 L807.6,109.3 L808.2,109.1 L808.8,108.3 L809.4,110.1 L810.0,109.1 L810.6,109.9 L811.2,108.7 L811.8,109.3 L812.4,111.6 L813.0,110.3 L813.6,108.4 L814.2,108.8 L814.8,109.3 L815.4,109.6 L816.0,108.3 L816.6,108.8 L817.2,110.4 L817.8,109.2 L818.4,111.7 L819.0,109.9 L819.6,108.4 L820.2,109.5 L820.8,124.0 L821.4,122.7 L822.0,111.9 L822.6,108.9 L823.2,109.7 L823.8,109.4 L824.4,108.3 L825.0,108.2 L825.6,108.7 L826.2,109.3 L826.8,109.1 L827.4,108.4 L828.0,109.0 L828.6,109.8 L829.2,108.4 L829.8,108.8 L830.4,108.5 L831.0,108.1 L831.6,108.6 L832.2,108.2 L832.8,109.7 L833.4,109.8 L834.0,108.4 L834.6,109.3 L835.2,111.5 L835.8,108.2 L836.4,111.8 L837.0,109.3 L837.6,110.4 L838.2,108.4 L838.8,113.3 L839.4,112.0 L840.0,108.4 L840.6,110.9 L841.2,108.7 L841.8,108.2 L842.4,108.3 L843.0,109.0 L843.6,110.6 L844.2,109.2 L844.8,109.7 L845.4,109.4 L846.0,113.2 L846.6,108.9 L847.2,108.1 L847.8,108.7 L848.4,108.7 L849.0,108.2 L849.6,110.6 L850.2,108.6 L850.8,108.3 L851.4,110.7 L852.0,108.9 L852.6,108.2 L853.2,119.7 L853.8,118.4 L854.4,108.4 L855.0,109.1 L855.6,108.7 L856.2,108.1 L856.8,110.2 L857.4,108.6 L858.0,108.5 L858.6,109.7 L859.2,109.4 L859.8,109.7 L860.4,108.4 L861.0,108.4 L861.6,109.1 L862.2,109.2 L862.8,108.5 L863.4,109.4 L864.0,108.6 L864.6,108.5 L865.2,118.0 L865.8,116.7 L866.4,111.4 L867.0,108.3 L867.6,108.2 L868.2,109.8 L868.8,109.9 L869.4,109.3 L870.0,109.0 L870.6,110.4 L871.2,108.8 L871.8,109.4 L872.4,108.4 L873.0,114.1 L873.6,112.8 L874.2,110.2 L874.8,108.3 L875.4,108.4 L876.0,109.6 L876.6,109.8 L877.2,109.2 L877.8,109.9 L878.4,109.1 L879.0,124.0 L879.6,122.7 L880.2,108.2 L880.8,108.6 L881.4,108.2 L882.0,110.0 L882.6,109.5 L883.2,108.7 L883.8,108.4 L884.4,115.9 L885.0,114.6 L885.6,110.2 L886.2,109.4 L886.8,109.2 L887.4,108.5 L888.0,109.7 L888.6,110.7 L889.2,108.4 L889.8,110.0 L890.4,108.6 L891.0,108.8 L891.6,108.6 L892.2,108.8 L892.8,108.9 L893.4,108.6 L894.0,109.2 L894.6,109.1 L895.2,108.5 L895.8,108.6 L896.4,108.3 L897.0,108.2 L897.6,109.4 L898.2,108.3 L898.8,110.8 L899.4,110.1 L900.0,109.0 L900.6,109.6 L901.2,108.4 L901.8,110.0 L902.4,114.1 L903.0,112.8 L903.6,105.8 L904.2,105.5 L904.8,105.5 L905.4,105.5 L906.0,105.9 L906.6,105.9 L907.2,106.0 L907.8,105.9 L908.4,105.6 L909.0,105.6 L909.6,105.7 L910.2,106.1 L910.8,105.5 L911.4,105.4 L912.0,106.5 L912.6,105.7 L913.2,106.1 L913.8,105.9 L914.4,105.6 L915.0,105.7 L915.6,105.9 L916.2,105.6 L916.8,105.6 L917.4,105.5 L918.0,105.6 L918.6,105.4 L919.2,105.7 L919.8,106.5 L920.4,105.7 L921.0,105.5 L921.6,105.3 L922.2,105.4 L922.8,106.0 L923.4,106.2 L924.0,105.7 L924.6,105.5 L925.2,105.6 L925.8,105.5 L926.4,105.4 L927.0,105.7 L927.6,105.7 L928.2,105.8 L928.8,105.6 L929.4,106.4 L930.0,105.3 L930.6,105.7 L931.2,105.6 L931.8,105.7 L932.4,105.6 L933.0,106.0 L933.6,105.7 L934.2,105.6 L934.8,106.0 L935.4,105.6 L936.0,105.7 L936.6,106.1 L937.2,112.7 L937.8,113.7 L938.4,114.9 L939.0,113.6 L939.6,113.0 L940.2,113.4 L940.8,114.2 L941.4,113.2 L942.0,114.2 L942.6,114.0 L943.2,113.6 L943.8,112.6 L944.4,112.8 L945.0,112.9 L945.6,113.2 L946.2,112.7 L946.8,113.7 L947.4,114.1 L948.0,112.8 L948.6,114.4 L949.2,112.2 L949.8,112.9 L950.4,112.6 L951.0,112.4 L951.6,113.1 L952.2,112.4 L952.8,113.2 L953.4,112.4 L954.0,112.2 L954.6,115.0 L955.2,113.4 L955.8,113.7 L956.4,113.1 L957.0,112.3 L957.6,112.6 L958.2,115.4 L958.8,114.1 L959.4,113.2 L960.0,114.0 L960.6,112.3 L961.2,115.1 L961.8,112.3 L962.4,112.6 L963.0,113.3 L963.6,114.8 L964.2,113.6 L964.8,113.2 L965.4,112.2 L966.0,112.9 L966.6,113.3 L967.2,112.9 L967.8,112.7 L968.4,113.4 L969.0,118.4 L969.6,117.1 L970.2,114.9 L970.8,114.4 L971.4,115.4 L972.0,114.3 L972.6,114.3 L973.2,115.3 L973.8,117.1 L974.4,114.9 L975.0,115.2 L975.6,116.0 L976.2,114.7 L976.8,114.4 L977.4,117.6 L978.0,116.3 L978.6,116.2 L978.6,103.0 Z" fill="#f0463f"/>
<!-- info icons -->
<g fill="none" stroke="#e0e0e4" stroke-width="1.15"><circle cx="182.0" cy="19" r="5.8"/><circle cx="407.2" cy="19" r="5.8"/><circle cx="655.4" cy="19" r="5.8"/><circle cx="881.5" cy="19" r="5.8"/></g>
<path d="M182.0,18.2v3.8M407.2,18.2v3.8M655.4,18.2v3.8M881.5,18.2v3.8M182.0,15.4v1.4M407.2,15.4v1.4M655.4,15.4v1.4M881.5,15.4v1.4" stroke="#e0e0e4" stroke-width="1.2"/>
<!-- delta arrows -->
<g fill="none" stroke-width="1.3" stroke-linecap="round" stroke-linejoin="round">
<path d="M121.5,57.6v-9M117.6,52.3l3.9,-3.9l3.9,3.9" stroke="#45bd72"/><path d="M377.3,57.6v-9M373.40000000000003,52.3l3.9,-3.9l3.9,3.9" stroke="#45bd72"/><path d="M607.9,57.6v-9M604.0,52.3l3.9,-3.9l3.9,3.9" stroke="#45bd72"/><path d="M837.9,48.6v9M834.0,53.9l3.9,3.9l3.9,-3.9" stroke="#e9544c"/>
</g>
</svg>

<!-- cards -->
<div class="abs chead" style="left:28.5px;width:478px"></div><div class="abs cbody" style="left:28.5px;width:478px"></div><div class="abs thead" style="left:37px;width:460.7px"></div>
<div class="abs chead" style="left:524.5px;width:477px"></div><div class="abs cbody" style="left:524.5px;width:477px"></div><div class="abs thead" style="left:534.5px;width:458.3px"></div>
<div class="abs sep" style="left:37px;width:461px;top:322.5px"></div><div class="abs sep" style="left:534.5px;width:458px;top:322.5px"></div><div class="abs sep" style="left:37px;width:461px;top:360.1px"></div><div class="abs sep" style="left:534.5px;width:458px;top:360.1px"></div><div class="abs sep" style="left:37px;width:461px;top:397.7px"></div><div class="abs sep" style="left:534.5px;width:458px;top:397.7px"></div><div class="abs sep" style="left:37px;width:461px;top:435.3px"></div><div class="abs sep" style="left:534.5px;width:458px;top:435.3px"></div><div class="abs sep" style="left:37px;width:461px;top:472.9px"></div><div class="abs sep" style="left:534.5px;width:458px;top:472.9px"></div>
<div class="abs t lbl" style="left:51.50px;top:11.89px;font-size:11px;line-height:14px;transform:scaleX(0.9555)">SEARCH IMPRESSIONS</div>
<div class="abs t lbl" style="left:299.10px;top:11.89px;font-size:11px;line-height:14px;transform:scaleX(0.9595)">ORGANIC TRAFFIC</div>
<div class="abs t lbl" style="left:545.70px;top:11.89px;font-size:11px;line-height:14px;transform:scaleX(0.9682)">TOTAL KEYWORDS</div>
<div class="abs t lbl" style="left:792.20px;top:11.89px;font-size:11px;line-height:14px;transform:scaleX(0.9721)">RANK CHANGE</div>
<div class="abs t big" style="left:52.40px;top:34.75px;font-size:29px;line-height:38px;letter-spacing:0.472px">54M</div>
<div class="abs t big" style="left:300.20px;top:34.75px;font-size:29px;line-height:38px;letter-spacing:0.372px">193k</div>
<div class="abs t big" style="left:546.80px;top:34.75px;font-size:29px;line-height:38px;letter-spacing:1.098px">11k</div>
<div class="abs t big" style="left:792.90px;top:34.75px;font-size:29px;line-height:38px;letter-spacing:-0.528px">44</div>
<div class="abs t delta up" style="left:128.40px;top:45.99px;font-size:11px;line-height:14px;transform:scaleX(1.0643)">52M</div>
<div class="abs t delta up" style="left:384.50px;top:45.99px;font-size:11px;line-height:14px;transform:scaleX(1.0094)">184K</div>
<div class="abs t delta up" style="left:614.40px;top:43.05px;font-size:14px;line-height:18px;letter-spacing:0.000px">∞</div>
<div class="abs t delta down" style="left:845.70px;top:45.99px;font-size:11px;line-height:14px;transform:scaleX(1.0316)">10</div>
<div class="abs t ctitle" style="left:51.70px;top:189.80px;font-size:13px;line-height:17px;letter-spacing:-0.029px">Top Pages</div>
<div class="abs t ctitle" style="left:546.60px;top:189.80px;font-size:13px;line-height:17px;letter-spacing:0.273px">Country Breakdown</div>
<div class="abs t th" style="left:60.30px;top:251.39px;font-size:11px;line-height:14px;transform:scaleX(0.9275)">URL</div>
<div class="abs t th" style="left:272.90px;top:251.39px;font-size:11px;line-height:14px;transform:scaleX(0.9463)">TRAFFIC</div>
<div class="abs t th" style="left:383.74px;top:251.39px;font-size:11px;line-height:14px;transform:scaleX(0.9618)">IMPRESSIONS</div>
<div class="abs t th" style="left:555.90px;top:251.39px;font-size:11px;line-height:14px;transform:scaleX(0.9535)">COUNTRY</div>
<div class="abs t th" style="left:757.90px;top:251.39px;font-size:11px;line-height:14px;transform:scaleX(0.9485)">TRAFFIC</div>
<div class="abs t th" style="left:878.73px;top:251.39px;font-size:11px;line-height:14px;transform:scaleX(0.9658)">IMPRESSIONS</div>
<div class="abs t td" style="left:60.60px;top:292.30px;font-size:13px;line-height:17px;letter-spacing:0.325px">/bulk-da-checker/</div>
<div class="abs t td" style="left:60.60px;top:329.90px;font-size:13px;line-height:17px;letter-spacing:0.269px">/free-backlink-analysis/</div>
<div class="abs t td" style="left:60.60px;top:367.50px;font-size:13px;line-height:17px;letter-spacing:0.350px">/</div>
<div class="abs t td" style="left:60.60px;top:405.10px;font-size:13px;line-height:17px;letter-spacing:0.279px">/keyword-search-volu...</div>
<div class="abs t td" style="left:60.60px;top:442.70px;font-size:13px;line-height:17px;letter-spacing:0.238px">/keyword-researcher/</div>
<div class="abs t td" style="left:60.60px;top:480.30px;font-size:13px;line-height:17px;letter-spacing:0.425px">/free-seo-audit/</div>
<div class="abs t td" style="left:273.37px;top:295.00px;font-size:13px;line-height:17px;letter-spacing:0.300px">134.7K</div>
<div class="abs t td" style="left:445.43px;top:295.00px;font-size:13px;line-height:17px;letter-spacing:0.300px">8.4M</div>
<div class="abs t td" style="left:280.90px;top:332.60px;font-size:13px;line-height:17px;letter-spacing:0.300px">16.7K</div>
<div class="abs t td" style="left:456.87px;top:332.60px;font-size:13px;line-height:17px;letter-spacing:0.300px">7M</div>
<div class="abs t td" style="left:280.90px;top:370.20px;font-size:13px;line-height:17px;letter-spacing:0.300px">10.1K</div>
<div class="abs t td" style="left:431.37px;top:370.20px;font-size:13px;line-height:17px;letter-spacing:0.300px">321.6K</div>
<div class="abs t td" style="left:288.43px;top:407.80px;font-size:13px;line-height:17px;letter-spacing:0.300px">8.4K</div>
<div class="abs t td" style="left:456.87px;top:407.80px;font-size:13px;line-height:17px;letter-spacing:0.300px">3M</div>
<div class="abs t td" style="left:288.43px;top:445.40px;font-size:13px;line-height:17px;letter-spacing:0.300px">5.3K</div>
<div class="abs t td" style="left:445.43px;top:445.40px;font-size:13px;line-height:17px;letter-spacing:0.300px">1.9M</div>
<div class="abs t td" style="left:288.43px;top:483.00px;font-size:13px;line-height:17px;letter-spacing:0.300px">5.2K</div>
<div class="abs t td" style="left:445.43px;top:483.00px;font-size:13px;line-height:17px;letter-spacing:0.300px">3.7M</div>
<div class="abs t td" style="left:579.20px;top:295.20px;font-size:13px;line-height:17px;letter-spacing:-0.165px">India</div>
<div class="abs t td" style="left:579.20px;top:332.80px;font-size:13px;line-height:17px;letter-spacing:0.205px">United States</div>
<div class="abs t td" style="left:579.20px;top:370.40px;font-size:13px;line-height:17px;letter-spacing:0.110px">Pakistan</div>
<div class="abs t td" style="left:579.20px;top:408.00px;font-size:13px;line-height:17px;letter-spacing:0.129px">Bangladesh</div>
<div class="abs t td" style="left:579.20px;top:445.60px;font-size:13px;line-height:17px;letter-spacing:0.295px">United Kingdom</div>
<div class="abs t td" style="left:579.20px;top:483.20px;font-size:13px;line-height:17px;letter-spacing:-0.031px">Indonesia</div>
<div class="abs t td" style="left:766.00px;top:295.00px;font-size:13px;line-height:17px;letter-spacing:0.300px">10.9K</div>
<div class="abs t td" style="left:941.33px;top:295.00px;font-size:13px;line-height:17px;letter-spacing:0.300px">1.3M</div>
<div class="abs t td" style="left:773.53px;top:332.60px;font-size:13px;line-height:17px;letter-spacing:0.300px">3.4K</div>
<div class="abs t td" style="left:941.33px;top:332.60px;font-size:13px;line-height:17px;letter-spacing:0.300px">1.9M</div>
<div class="abs t td" style="left:773.53px;top:370.20px;font-size:13px;line-height:17px;letter-spacing:0.300px">3.1K</div>
<div class="abs t td" style="left:927.27px;top:370.20px;font-size:13px;line-height:17px;letter-spacing:0.300px">258.7K</div>
<div class="abs t td" style="left:773.53px;top:407.80px;font-size:13px;line-height:17px;letter-spacing:0.300px">1.2K</div>
<div class="abs t td" style="left:938.71px;top:407.80px;font-size:13px;line-height:17px;letter-spacing:0.300px">187K</div>
<div class="abs t td" style="left:779.44px;top:445.40px;font-size:13px;line-height:17px;letter-spacing:0.300px">966</div>
<div class="abs t td" style="left:927.27px;top:445.40px;font-size:13px;line-height:17px;letter-spacing:0.300px">323.3K</div>
<div class="abs t td" style="left:779.44px;top:483.00px;font-size:13px;line-height:17px;letter-spacing:0.300px">858</div>
<div class="abs t td" style="left:927.27px;top:483.00px;font-size:13px;line-height:17px;letter-spacing:0.300px">451.4K</div>
<svg width="1024" height="506" viewBox="0 0 1024 506">
<g fill="none" stroke="#e0e0e4" stroke-width="1.15"><circle cx="124.5" cy="198.3" r="6"/><circle cx="676.2" cy="198.3" r="6"/></g>
<path d="M124.5,197.5v3.8M676.2,197.5v3.8M124.5,194.8v1.3M676.2,194.8v1.3" stroke="#e0e0e4" stroke-width="1.2"/>
<!-- sort icons -->
<g fill="#c4c4cb">
<path d="M321.3,257.3L324.7,253.4L328.09999999999997,257.3Z"/><path d="M321.3,259.7L324.7,263.6L328.09999999999997,259.7Z"/><path d="M461.90000000000003,257.3L465.3,253.4L468.7,257.3Z"/><path d="M461.90000000000003,259.7L465.3,263.6L468.7,259.7Z"/><path d="M806.5,257.3L809.9,253.4L813.3,257.3Z"/><path d="M806.5,259.7L809.9,263.6L813.3,259.7Z"/><path d="M957.4,257.3L960.8,253.4L964.1999999999999,257.3Z"/><path d="M957.4,259.7L960.8,263.6L964.1999999999999,259.7Z"/>
</g>
<defs><clipPath id="fclip"><path d="M0.0,1.0L1.6,1.0L3.2,1.0L4.8,0.9L6.4,0.7L8.0,0.3L9.6,0.0L11.2,0.0L12.8,0.1L14.4,0.2L16.0,0.7L16.0,11.0L14.4,10.9L12.8,11.0L11.2,11.3L9.6,11.5L8.0,11.7L6.4,12.0L4.8,12.2L3.2,12.1L1.6,11.8L0.0,11.7Z"/></clipPath><linearGradient id="fsh" x1="0" y1="0" x2="1" y2="0"><stop offset="0" stop-color="#000" stop-opacity=".10"/><stop offset=".3" stop-color="#fff" stop-opacity=".18"/><stop offset=".65" stop-color="#000" stop-opacity=".06"/><stop offset="1" stop-color="#fff" stop-opacity=".12"/></linearGradient></defs>
<g transform="translate(556.4,296.55) scale(1,.975)"><path d="M0.0,1.0L1.6,1.0L3.2,1.0L4.8,0.9L6.4,0.7L8.0,0.3L9.6,0.0L11.2,0.0L12.8,0.1L14.4,0.2L16.0,0.7L16.0,4.2L14.4,3.9L12.8,3.8L11.2,3.9L9.6,4.0L8.0,4.2L6.4,4.6L4.8,4.8L3.2,4.8L1.6,4.7L0.0,4.7Z" fill="#f29b38"/><path d="M0.0,4.6L1.6,4.6L3.2,4.7L4.8,4.7L6.4,4.5L8.0,4.1L9.6,3.8L11.2,3.8L12.8,3.7L14.4,3.8L16.0,4.1L16.0,7.7L14.4,7.5L12.8,7.4L11.2,7.7L9.6,7.8L8.0,8.0L6.4,8.4L4.8,8.6L3.2,8.5L1.6,8.3L0.0,8.2Z" fill="#f6f6f4"/><path d="M0.0,8.1L1.6,8.2L3.2,8.4L4.8,8.4L6.4,8.3L8.0,7.9L9.6,7.7L11.2,7.6L12.8,7.3L14.4,7.4L16.0,7.6L16.0,11.0L14.4,10.9L12.8,11.0L11.2,11.3L9.6,11.5L8.0,11.7L6.4,12.0L4.8,12.2L3.2,12.1L1.6,11.8L0.0,11.7Z" fill="#2c8c3f"/><circle cx="8.00" cy="5.99" r="0.95" fill="#4a5ab0"/><path d="M0.0,1.0L1.6,1.0L3.2,1.0L4.8,0.9L6.4,0.7L8.0,0.3L9.6,0.0L11.2,0.0L12.8,0.1L14.4,0.2L16.0,0.7L16.0,11.0L14.4,10.9L12.8,11.0L11.2,11.3L9.6,11.5L8.0,11.7L6.4,12.0L4.8,12.2L3.2,12.1L1.6,11.8L0.0,11.7Z" fill="url(#fsh)"/></g>
<g transform="translate(556.4,334.15) scale(1,.975)"><path d="M0.0,1.0L1.6,1.0L3.2,1.0L4.8,0.9L6.4,0.7L8.0,0.3L9.6,0.0L11.2,0.0L12.8,0.1L14.4,0.2L16.0,0.7L16.0,2.3L14.4,1.9L12.8,1.8L11.2,1.8L9.6,1.8L8.0,2.0L6.4,2.4L4.8,2.7L3.2,2.7L1.6,2.6L0.0,2.6Z" fill="#dd5562"/><path d="M0.0,2.5L1.6,2.5L3.2,2.5L4.8,2.6L6.4,2.3L8.0,1.9L9.6,1.7L11.2,1.6L12.8,1.6L14.4,1.8L16.0,2.2L16.0,3.7L14.4,3.4L12.8,3.3L11.2,3.4L9.6,3.4L8.0,3.7L6.4,4.0L4.8,4.3L3.2,4.2L1.6,4.2L0.0,4.2Z" fill="#f5e8e8"/><path d="M0.0,4.1L1.6,4.1L3.2,4.1L4.8,4.2L6.4,3.9L8.0,3.5L9.6,3.3L11.2,3.3L12.8,3.2L14.4,3.3L16.0,3.6L16.0,5.2L14.4,4.9L12.8,4.9L11.2,5.0L9.6,5.1L8.0,5.3L6.4,5.7L4.8,5.9L3.2,5.8L1.6,5.7L0.0,5.7Z" fill="#dd5562"/><path d="M0.0,5.6L1.6,5.6L3.2,5.7L4.8,5.8L6.4,5.6L8.0,5.2L9.6,4.9L11.2,4.9L12.8,4.8L14.4,4.8L16.0,5.1L16.0,6.7L14.4,6.5L12.8,6.4L11.2,6.6L9.6,6.7L8.0,6.9L6.4,7.3L4.8,7.5L3.2,7.4L1.6,7.3L0.0,7.2Z" fill="#f5e8e8"/><path d="M0.0,7.1L1.6,7.2L3.2,7.3L4.8,7.4L6.4,7.2L8.0,6.8L9.6,6.6L11.2,6.5L12.8,6.3L14.4,6.3L16.0,6.6L16.0,8.2L14.4,8.0L12.8,8.0L11.2,8.2L9.6,8.3L8.0,8.6L6.4,8.9L4.8,9.1L3.2,9.0L1.6,8.8L0.0,8.7Z" fill="#dd5562"/><path d="M0.0,8.6L1.6,8.7L3.2,8.9L4.8,9.0L6.4,8.8L8.0,8.4L9.6,8.2L11.2,8.1L12.8,7.9L14.4,7.9L16.0,8.1L16.0,9.6L14.4,9.5L12.8,9.5L11.2,9.8L9.6,10.0L8.0,10.2L6.4,10.5L4.8,10.7L3.2,10.6L1.6,10.4L0.0,10.3Z" fill="#f5e8e8"/><path d="M0.0,10.2L1.6,10.3L3.2,10.5L4.8,10.6L6.4,10.4L8.0,10.1L9.6,9.9L11.2,9.7L12.8,9.4L14.4,9.4L16.0,9.5L16.0,11.0L14.4,10.9L12.8,11.0L11.2,11.3L9.6,11.5L8.0,11.7L6.4,12.0L4.8,12.2L3.2,12.1L1.6,11.8L0.0,11.7Z" fill="#dd5562"/><path d="M0.0,1.0L1.7,1.0L3.4,1.0L5.0,0.9L6.7,0.6L6.7,6.5L5.0,6.7L3.4,6.7L1.7,6.6L0.0,6.5Z" fill="#4474c4"/><path d="M0.0,1.0L1.6,1.0L3.2,1.0L4.8,0.9L6.4,0.7L8.0,0.3L9.6,0.0L11.2,0.0L12.8,0.1L14.4,0.2L16.0,0.7L16.0,11.0L14.4,10.9L12.8,11.0L11.2,11.3L9.6,11.5L8.0,11.7L6.4,12.0L4.8,12.2L3.2,12.1L1.6,11.8L0.0,11.7Z" fill="url(#fsh)"/></g>
<g transform="translate(556.4,371.75) scale(1,.975)"><path d="M0.0,1.0L1.6,1.0L3.2,1.0L4.8,0.9L6.4,0.7L8.0,0.3L9.6,0.0L11.2,0.0L12.8,0.1L14.4,0.2L16.0,0.7L16.0,11.0L14.4,10.9L12.8,11.0L11.2,11.3L9.6,11.5L8.0,11.7L6.4,12.0L4.8,12.2L3.2,12.1L1.6,11.8L0.0,11.7Z" fill="#1f6b30"/><path d="M0.0,1.0L1.4,1.0L2.8,1.0L4.2,1.0L4.2,12.2L2.8,12.0L1.4,11.8L0.0,11.7Z" fill="#efefef"/><circle cx="9.92" cy="5.75" r="2.7" fill="#fff"/><circle cx="10.92" cy="4.95" r="2.3" fill="#1f6b30"/><circle cx="11.42" cy="4.75" r=".75" fill="#fff"/><path d="M0.0,1.0L1.6,1.0L3.2,1.0L4.8,0.9L6.4,0.7L8.0,0.3L9.6,0.0L11.2,0.0L12.8,0.1L14.4,0.2L16.0,0.7L16.0,11.0L14.4,10.9L12.8,11.0L11.2,11.3L9.6,11.5L8.0,11.7L6.4,12.0L4.8,12.2L3.2,12.1L1.6,11.8L0.0,11.7Z" fill="url(#fsh)"/></g>
<g transform="translate(556.4,409.35) scale(1,.975)"><path d="M0.0,1.0L1.6,1.0L3.2,1.0L4.8,0.9L6.4,0.7L8.0,0.3L9.6,0.0L11.2,0.0L12.8,0.1L14.4,0.2L16.0,0.7L16.0,11.0L14.4,10.9L12.8,11.0L11.2,11.3L9.6,11.5L8.0,11.7L6.4,12.0L4.8,12.2L3.2,12.1L1.6,11.8L0.0,11.7Z" fill="#20705a"/><circle cx="7.20" cy="6.18" r="2.9" fill="#e8462f"/><path d="M0.0,1.0L1.6,1.0L3.2,1.0L4.8,0.9L6.4,0.7L8.0,0.3L9.6,0.0L11.2,0.0L12.8,0.1L14.4,0.2L16.0,0.7L16.0,11.0L14.4,10.9L12.8,11.0L11.2,11.3L9.6,11.5L8.0,11.7L6.4,12.0L4.8,12.2L3.2,12.1L1.6,11.8L0.0,11.7Z" fill="url(#fsh)"/></g>
<g transform="translate(556.4,446.95) scale(1,.975)"><path d="M0.0,1.0L1.6,1.0L3.2,1.0L4.8,0.9L6.4,0.7L8.0,0.3L9.6,0.0L11.2,0.0L12.8,0.1L14.4,0.2L16.0,0.7L16.0,11.0L14.4,10.9L12.8,11.0L11.2,11.3L9.6,11.5L8.0,11.7L6.4,12.0L4.8,12.2L3.2,12.1L1.6,11.8L0.0,11.7Z" fill="#3353ad"/><g clip-path="url(#fclip)"><path d="M0.00,1.00L16.00,11.00M16.00,0.70L0.00,11.70" stroke="#f4f4f6" stroke-width="2.6"/><path d="M0.00,1.00L16.00,11.00M16.00,0.70L0.00,11.70" stroke="#d9414e" stroke-width="0.9"/></g><path d="M0.0,4.5L1.6,4.6L3.2,4.6L4.8,4.7L6.4,4.4L8.0,4.0L9.6,3.8L11.2,3.8L12.8,3.7L14.4,3.8L16.0,4.1L16.0,7.6L14.4,7.4L12.8,7.4L11.2,7.6L9.6,7.7L8.0,7.9L6.4,8.3L4.8,8.5L3.2,8.4L1.6,8.2L0.0,8.2Z" fill="#f4f4f6"/><path d="M6.4,0.7L8.0,0.3L9.6,0.0L9.6,11.5L8.0,11.7L6.4,12.0Z" fill="#f4f4f6"/><path d="M0.0,5.3L1.6,5.3L3.2,5.4L4.8,5.4L6.4,5.2L8.0,4.8L9.6,4.6L11.2,4.6L12.8,4.4L14.4,4.5L16.0,4.8L16.0,6.9L14.4,6.7L12.8,6.6L11.2,6.8L9.6,6.9L8.0,7.1L6.4,7.5L4.8,7.7L3.2,7.6L1.6,7.5L0.0,7.4Z" fill="#d9414e"/><path d="M7.0,0.5L8.0,0.3L9.0,0.1L9.0,11.6L8.0,11.7L7.0,11.9Z" fill="#d9414e"/><path d="M0.0,1.0L1.6,1.0L3.2,1.0L4.8,0.9L6.4,0.7L8.0,0.3L9.6,0.0L11.2,0.0L12.8,0.1L14.4,0.2L16.0,0.7L16.0,11.0L14.4,10.9L12.8,11.0L11.2,11.3L9.6,11.5L8.0,11.7L6.4,12.0L4.8,12.2L3.2,12.1L1.6,11.8L0.0,11.7Z" fill="url(#fsh)"/></g>
<g transform="translate(556.4,484.55) scale(1,.975)"><path d="M0.0,1.0L1.6,1.0L3.2,1.0L4.8,0.9L6.4,0.7L8.0,0.3L9.6,0.0L11.2,0.0L12.8,0.1L14.4,0.2L16.0,0.7L16.0,6.0L14.4,5.7L12.8,5.6L11.2,5.8L9.6,5.9L8.0,6.1L6.4,6.5L4.8,6.7L3.2,6.6L1.6,6.5L0.0,6.5Z" fill="#e13a34"/><path d="M0.0,6.3L1.6,6.4L3.2,6.5L4.8,6.6L6.4,6.4L8.0,6.0L9.6,5.8L11.2,5.7L12.8,5.5L14.4,5.6L16.0,5.8L16.0,11.0L14.4,10.9L12.8,11.0L11.2,11.3L9.6,11.5L8.0,11.7L6.4,12.0L4.8,12.2L3.2,12.1L1.6,11.8L0.0,11.7Z" fill="#f1f1f1"/><path d="M0.0,1.0L1.6,1.0L3.2,1.0L4.8,0.9L6.4,0.7L8.0,0.3L9.6,0.0L11.2,0.0L12.8,0.1L14.4,0.2L16.0,0.7L16.0,11.0L14.4,10.9L12.8,11.0L11.2,11.3L9.6,11.5L8.0,11.7L6.4,12.0L4.8,12.2L3.2,12.1L1.6,11.8L0.0,11.7Z" fill="none" stroke="#d8d8d8" stroke-width=".4"/><path d="M0.0,1.0L1.6,1.0L3.2,1.0L4.8,0.9L6.4,0.7L8.0,0.3L9.6,0.0L11.2,0.0L12.8,0.1L14.4,0.2L16.0,0.7L16.0,11.0L14.4,10.9L12.8,11.0L11.2,11.3L9.6,11.5L8.0,11.7L6.4,12.0L4.8,12.2L3.2,12.1L1.6,11.8L0.0,11.7Z" fill="url(#fsh)"/></g>
<!-- chat bubble -->
<circle cx="1002.5" cy="460" r="26.8" fill="#7b4ea7"/>
<path d="M989.800,452.500L1014,450.800L1013.600,466.800L1005.500,467L1002.800,471.800L1000,467.200L990.500,467.400Z" fill="#fff"/>
</svg>
<div class="abs" style="left:0;top:504px;width:1024px;height:2px;background:linear-gradient(#e4e4e9,#d0d0d6)"></div>
</body>
</html>
